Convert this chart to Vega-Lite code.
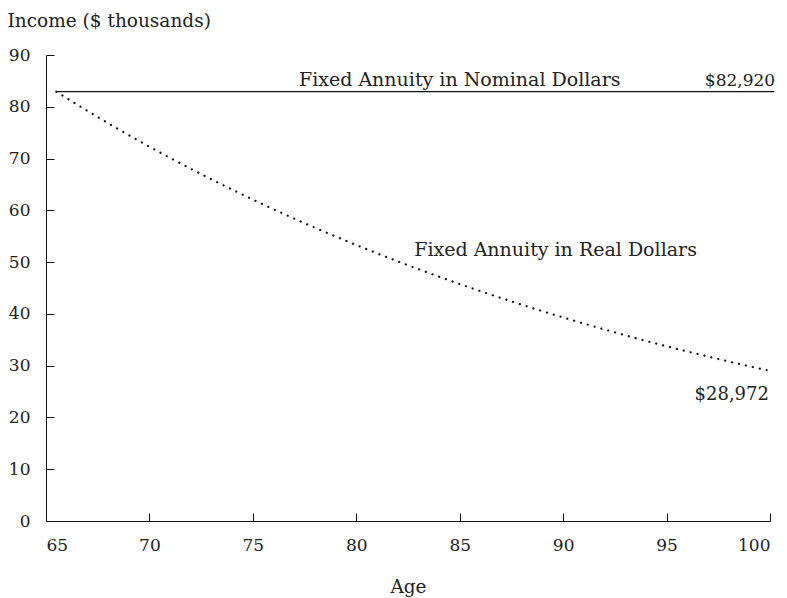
{
  "$schema": "https://vega.github.io/schema/vega-lite/v6.json",
  "width": 724,
  "height": 466,
  "autosize": {"type": "none"},
  "padding": {"left": 46, "top": 55, "right": 17, "bottom": 77},
  "background": "white",
  "config": {
    "view": {"stroke": null},
    "font": "DejaVu Serif",
    "axis": {
      "grid": false,
      "domainColor": "#111",
      "tickColor": "#111",
      "tickSize": -8,
      "tickWidth": 1,
      "labelFont": "DejaVu Serif",
      "labelFontSize": 17,
      "labelColor": "#222",
      "titleFont": "DejaVu Serif",
      "titleFontSize": 18.5,
      "titleFontWeight": "normal",
      "titleColor": "#222"
    }
  },
  "datasets": {
    "nominal": [
      {"age": 65.5, "income": 82.92},
      {"age": 100.2, "income": 82.92}
    ],
    "real": [
      {"age": 65.5, "income": 82.92},
      {"age": 66, "income": 81.67},
      {"age": 67, "income": 79.22},
      {"age": 68, "income": 76.84},
      {"age": 69, "income": 74.53},
      {"age": 70, "income": 72.29},
      {"age": 71, "income": 70.12},
      {"age": 72, "income": 68.02},
      {"age": 73, "income": 65.98},
      {"age": 74, "income": 64.0},
      {"age": 75, "income": 62.08},
      {"age": 76, "income": 60.21},
      {"age": 77, "income": 58.4},
      {"age": 78, "income": 56.65},
      {"age": 79, "income": 54.95},
      {"age": 80, "income": 53.3},
      {"age": 81, "income": 51.7},
      {"age": 82, "income": 50.15},
      {"age": 83, "income": 48.64},
      {"age": 84, "income": 47.18},
      {"age": 85, "income": 45.76},
      {"age": 86, "income": 44.39},
      {"age": 87, "income": 43.06},
      {"age": 88, "income": 41.77},
      {"age": 89, "income": 40.52},
      {"age": 90, "income": 39.3},
      {"age": 91, "income": 38.12},
      {"age": 92, "income": 36.98},
      {"age": 93, "income": 35.87},
      {"age": 94, "income": 34.79},
      {"age": 95, "income": 33.75},
      {"age": 96, "income": 32.74},
      {"age": 97, "income": 31.76},
      {"age": 98, "income": 30.81},
      {"age": 99, "income": 29.89},
      {"age": 100, "income": 28.97}
    ],
    "labels": [
      {"age": 85.0, "income": 82.92, "text": "Fixed Annuity in Nominal Dollars", "align": "center", "pos": "above"},
      {"age": 100.25, "income": 82.92, "text": "$82,920", "align": "right", "pos": "above"},
      {"age": 82.8, "income": 52.3, "text": "Fixed Annuity in Real Dollars", "align": "left", "pos": "mid"},
      {"age": 99.95, "income": 24.3, "text": "$28,972", "align": "right", "pos": "mid"}
    ]
  },
  "layer": [
    {
      "data": {"name": "nominal"},
      "mark": {"type": "line", "color": "#111", "strokeWidth": 1.3},
      "encoding": {
        "x": {
          "field": "age", "type": "quantitative",
          "scale": {"domain": [65, 100], "nice": false},
          "axis": {"values": [65, 70, 75, 80, 85, 90, 95, 100], "title": "Age", "labelPadding": 24, "titlePadding": 24}
        },
        "y": {
          "field": "income", "type": "quantitative",
          "scale": {"domain": [0, 90], "nice": false},
          "axis": {
            "values": [0, 10, 20, 30, 40, 50, 60, 70, 80, 90],
            "title": "Income ($ thousands)",
            "titleAngle": 0, "titleAlign": "left", "titleBaseline": "middle",
            "titleX": -39, "titleY": -35,
            "labelPadding": 24
          }
        }
      }
    },
    {
      "data": {"name": "real"},
      "mark": {"type": "line", "color": "#111", "strokeWidth": 2.2, "strokeDash": [0.1, 7], "strokeCap": "round"},
      "encoding": {
        "x": {"field": "age", "type": "quantitative"},
        "y": {"field": "income", "type": "quantitative"}
      }
    },
    {
      "data": {"name": "labels"},
      "transform": [{"filter": "datum.pos == 'above' && datum.align == 'center'"}],
      "mark": {"type": "text", "fontSize": 19, "font": "DejaVu Serif", "color": "#222", "align": "center", "baseline": "alphabetic", "dy": -6},
      "encoding": {
        "x": {"field": "age", "type": "quantitative"},
        "y": {"field": "income", "type": "quantitative"},
        "text": {"field": "text"}
      }
    },
    {
      "data": {"name": "labels"},
      "transform": [{"filter": "datum.pos == 'above' && datum.align == 'right'"}],
      "mark": {"type": "text", "fontSize": 17, "font": "DejaVu Serif", "color": "#222", "align": "right", "baseline": "alphabetic", "dy": -6},
      "encoding": {
        "x": {"field": "age", "type": "quantitative"},
        "y": {"field": "income", "type": "quantitative"},
        "text": {"field": "text"}
      }
    },
    {
      "data": {"name": "labels"},
      "transform": [{"filter": "datum.pos == 'mid' && datum.align == 'left'"}],
      "mark": {"type": "text", "fontSize": 19, "font": "DejaVu Serif", "color": "#222", "align": "left", "baseline": "middle"},
      "encoding": {
        "x": {"field": "age", "type": "quantitative"},
        "y": {"field": "income", "type": "quantitative"},
        "text": {"field": "text"}
      }
    },
    {
      "data": {"name": "labels"},
      "transform": [{"filter": "datum.pos == 'mid' && datum.align == 'right'"}],
      "mark": {"type": "text", "fontSize": 18, "font": "DejaVu Serif", "color": "#222", "align": "right", "baseline": "middle"},
      "encoding": {
        "x": {"field": "age", "type": "quantitative"},
        "y": {"field": "income", "type": "quantitative"},
        "text": {"field": "text"}
      }
    }
  ]
}
